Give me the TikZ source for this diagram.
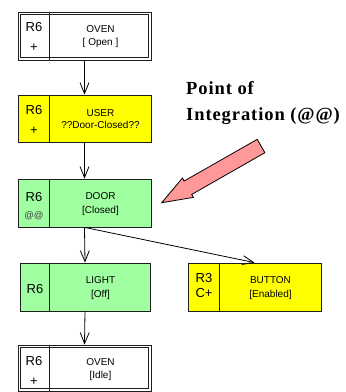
\documentclass[tikz,border=0pt]{standalone}
\usepackage{fontspec}
\setmainfont{Liberation Sans}
\newfontfamily\titlefont[LetterSpace=5]{Liberation Serif}
\usetikzlibrary{arrows.meta,calc}
\definecolor{boxyellow}{RGB}{255,255,0}
\definecolor{boxgreen}{RGB}{160,255,160}
\definecolor{pinkarrow}{RGB}{255,153,153}
\definecolor{boxline}{RGB}{30,30,30}
\tikzset{
  statebox/.style={draw=boxline, line width=0.8pt, rectangle, inner sep=0pt},
  dbl/.style={draw=boxline, line width=0.8pt},
  rtext/.style={font=\fontsize{13}{13}\selectfont, anchor=base, inner sep=0pt},
  ltext/.style={font=\fontsize{10}{10}\selectfont, anchor=base, inner sep=0pt},
  stext/.style={font=\fontsize{9.5}{9.5}\selectfont, anchor=base, inner sep=0pt, text=black!75},
  conn/.style={draw=black, line width=0.8pt, -{Straight Barb[length=11pt,width=9pt,line width=0.8pt]}},
  title/.style={font=\titlefont\bfseries\fontsize{18.5}{18.5}\selectfont, anchor=base west, inner sep=0pt}
}
\begin{document}
\begin{tikzpicture}[x=1pt,y=1pt]
\useasboundingbox (0,0) rectangle (346,392);

% Box 1: OVEN [ Open ]
\node[statebox, fill=white, minimum width=133pt, minimum height=48pt] (oven1) at (84.5,356) {};
\draw[dbl] ($(oven1.north west)+(3,-3)$) rectangle ($(oven1.south east)+(-3,3)$);
\draw[dbl] ($(oven1.north west)+(32,0)$) -- ($(oven1.south west)+(32,0)$);
\node[rtext] (o1a) at (34,360) {R6};
\node[rtext] (o1b) at (34,340) {+};
\node[ltext] (o1c) at (100.5,359.5) {OVEN};
\node[ltext] (o1d) at (100.5,346.5) {[ Open ]};

% Box 2: USER
\node[statebox, fill=boxyellow, minimum width=133pt, minimum height=47pt] (user) at (84.5,273.5) {};
\draw[dbl] ($(user.north west)+(32,0)$) -- ($(user.south west)+(32,0)$);
\node[rtext] (u1a) at (34,277) {R6};
\node[rtext] (u1b) at (34,257) {+};
\node[ltext] (u1c) at (100.5,276) {USER};
\node[ltext] (u1d) at (100.5,263.5) {??Door-Closed??};

% Box 3: DOOR
\node[statebox, fill=boxgreen, minimum width=133pt, minimum height=48pt] (door) at (84.5,189) {};
\draw[dbl] ($(door.north west)+(32,0)$) -- ($(door.south west)+(32,0)$);
\node[rtext] (d1a) at (34,190.5) {R6};
\node[stext] (d1b) at (34,173) {@@};
\node[ltext] (d1c) at (100.5,192) {DOOR};
\node[ltext] (d1d) at (100.5,178.5) {[Closed]};

% Box 4: LIGHT
\node[statebox, fill=boxgreen, minimum width=130pt, minimum height=48pt] (light) at (85,105) {};
\draw[dbl] ($(light.north west)+(30,0)$) -- ($(light.south west)+(30,0)$);
\node[rtext] (l1a) at (35,99) {R6};
\node[ltext] (l1c) at (100.5,108) {LIGHT};
\node[ltext] (l1d) at (100.5,94.5) {[Off]};

% Box 5: BUTTON
\node[statebox, fill=boxyellow, minimum width=133pt, minimum height=48pt] (button) at (254.5,105) {};
\draw[dbl] ($(button.north west)+(32,0)$) -- ($(button.south west)+(32,0)$);
\node[rtext] (b1a) at (204,110) {R3};
\node[rtext] (b1b) at (204,94) {C+};
\node[ltext] (b1c) at (270.5,109) {BUTTON};
\node[ltext] (b1d) at (270.5,95) {[Enabled]};

% Box 6: OVEN [Idle]
\node[statebox, fill=white, minimum width=133pt, minimum height=46pt] (oven2) at (84.5,24) {};
\draw[dbl] ($(oven2.north west)+(3,-3)$) rectangle ($(oven2.south east)+(-3,3)$);
\draw[dbl] ($(oven2.north west)+(32,0)$) -- ($(oven2.south west)+(32,0)$);
\node[rtext] (o2a) at (34,27) {R6};
\node[rtext] (o2b) at (34,6) {+};
\node[ltext] (o2c) at (100.5,26.5) {OVEN};
\node[ltext] (o2d) at (100.5,13.5) {[Idle]};

% Connectors
\draw[conn] (oven1.south) -- (user.north);
\draw[conn] (user.south) -- (door.north);
\draw[conn] (door.south) -- (light.north);
\draw[conn] (door.south) -- (button.north);
\draw[conn] (light.south) -- (oven2.north);

% Title
\node[title] (t1) at (186,297) {Point of};
\node[title] (t2) at (186,271) {Integration (@@)};

% Pink block arrow
\begin{scope}[shift={(161.7,189.3)}, rotate=29.7]
\draw[draw=black, line width=0.8pt, fill=pinkarrow, line join=miter]
  (0,0) -- (30.2,11.1) -- (30.2,7.7) -- (114.4,7.7) -- (114.4,-7.7) -- (30.2,-7.7) -- (30.2,-11.1) -- cycle;
\end{scope}
\end{tikzpicture}
\end{document}
